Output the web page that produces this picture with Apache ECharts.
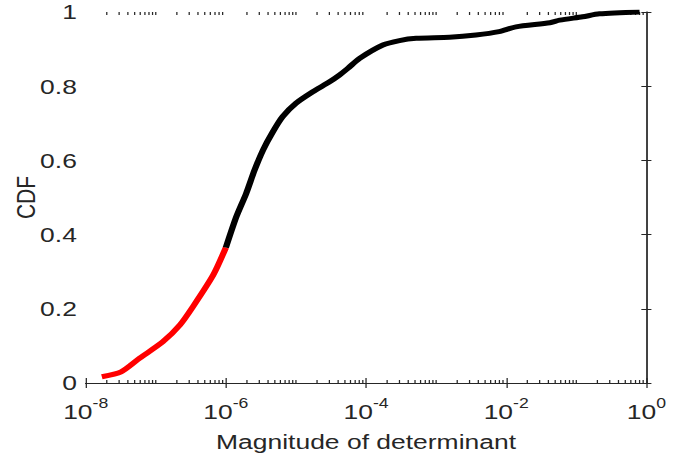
<!DOCTYPE html>
<html>
<head>
<meta charset="utf-8">
<script src="https://cdn.jsdelivr.net/npm/echarts@6/dist/echarts.min.js"></script>
<style>
html,body{margin:0;padding:0;background:#fff;overflow:hidden;}
#c{width:540px;height:455px;transform:scaleX(1.26);transform-origin:0 0;}
</style>
</head>
<body>
<div id="c"></div>
<script>
// Magnitude of determinant (x) and CDF (y)
const redX = [1.7e-8, 3.2e-8, 5.9e-8, 1.26e-7, 2.2e-7, 3.4e-7, 6.6e-7, 1.0e-6];
const redY = [0.017, 0.030, 0.067, 0.111, 0.156, 0.206, 0.291, 0.365];
const blackX = [1.0e-6, 1.41e-6, 1.95e-6, 2.57e-6, 3.39e-6, 4.68e-6, 6.46e-6, 1.0e-5, 1.74e-5, 3.02e-5, 4.17e-5, 5.5e-5, 8.1e-5, 1.74e-4, 3.0e-4, 5.2e-4, 1.55e-3, 3.7e-3, 7.9e-3, 1.38e-2, 4.2e-2, 5.8e-2, 0.123, 0.214, 0.80];
const blackY = [0.365, 0.448, 0.511, 0.574, 0.628, 0.677, 0.718, 0.754, 0.785, 0.812, 0.830, 0.848, 0.875, 0.911, 0.923, 0.929, 0.932, 0.938, 0.947, 0.960, 0.971, 0.978, 0.987, 0.995, 1.0];
const xDecadeMin = -8, xDecadeMax = 0;   // tick labels 10^-8 ... 10^0
const yTicks = [0, 0.2, 0.4, 0.6, 0.8, 1];

const FONT = '"Liberation Sans", Arial, Helvetica, sans-serif';
const AX = '#262626';

// minor log ticks (2..9 within each decade, plus odd decades)
const minor = [];
for (let d = xDecadeMin; d < xDecadeMax; d++) {
  if ((d - xDecadeMin) % 2 === 1) minor.push(d);
  for (let k = 2; k <= 9; k++) minor.push(d + Math.log10(k));
}

const chart = echarts.init(document.getElementById('c'), null, {renderer: 'svg'});
chart.setOption({
  animation: false,
  backgroundColor: '#fff',
  grid: {left: 68, right: 27, top: 12, bottom: 72, containLabel: false, outerBoundsMode: 'none'},
  xAxis: [{
    type: 'value', min: xDecadeMin, max: xDecadeMax, interval: 2,
    name: 'Magnitude of determinant', nameLocation: 'middle', nameGap: 48, nameMoveOverlap: false,
    nameTextStyle: {fontFamily: FONT, fontSize: 21, color: AX},
    axisLine: {show: true, lineStyle: {color: AX, width: 1}},
    axisTick: {show: true, inside: true, length: 5, lineStyle: {color: AX}},
    splitLine: {show: false},
    axisLabel: {
      margin: 13,
      formatter: v => '{b|10}{s|' + v + '}',
      rich: {
        b: {fontFamily: FONT, fontSize: 21, color: AX, lineHeight: 26, verticalAlign: 'bottom'},
        s: {fontFamily: FONT, fontSize: 14, color: AX, lineHeight: 14, verticalAlign: 'top'}
      }
    }
  }, {
    type: 'value', position: 'top', min: xDecadeMin, max: xDecadeMax, interval: 2,
    axisLine: {show: true, lineStyle: {color: AX, width: 1}},
    axisTick: {show: true, inside: true, length: 5, lineStyle: {color: AX}},
    axisLabel: {show: false}, splitLine: {show: false}
  }],
  yAxis: [{
    type: 'value', min: yTicks[0], max: yTicks[yTicks.length - 1], interval: 0.2,
    name: 'CDF', nameLocation: 'middle', nameGap: 37.5, nameMoveOverlap: false,
    nameTextStyle: {fontFamily: FONT, fontSize: 21, color: AX},
    axisLine: {show: true, lineStyle: {color: AX, width: 1}},
    axisTick: {show: true, inside: true, length: 4, lineStyle: {color: AX}},
    splitLine: {show: false},
    axisLabel: {margin: 7, fontFamily: FONT, fontSize: 21, color: AX}
  }, {
    type: 'value', position: 'right', min: yTicks[0], max: yTicks[yTicks.length - 1], interval: 0.2,
    axisLine: {show: true, lineStyle: {color: AX, width: 1}},
    axisTick: {show: true, inside: true, length: 4, lineStyle: {color: AX}},
    axisLabel: {show: false}, splitLine: {show: false}
  }],
  series: [{
    type: 'custom', xAxisIndex: 0, yAxisIndex: 0, silent: true,
    data: minor.map(v => [v, 0]),
    renderItem: (params, api) => {
      const v = api.value(0);
      const b = api.coord([v, 0]);
      const t = api.coord([v, 1]);
      return {type: 'group', children: [
        {type: 'line', shape: {x1: b[0], y1: b[1], x2: b[0], y2: b[1] - 3}, style: {stroke: AX, lineWidth: 1}},
        {type: 'line', shape: {x1: t[0], y1: t[1], x2: t[0], y2: t[1] + 3}, style: {stroke: AX, lineWidth: 1}}
      ]};
    }
  }, {
    type: 'line', xAxisIndex: 0, yAxisIndex: 0,
    data: redX.map((x, i) => [Math.log10(x), redY[i]]),
    showSymbol: false, smooth: 0.25,
    lineStyle: {color: '#ff0000', width: 5, join: 'round'}
  }, {
    type: 'line', xAxisIndex: 0, yAxisIndex: 0,
    data: blackX.map((x, i) => [Math.log10(x), blackY[i]]),
    showSymbol: false, smooth: 0.25,
    lineStyle: {color: '#000000', width: 5, join: 'round'}
  }]
});
</script>
</body>
</html>
